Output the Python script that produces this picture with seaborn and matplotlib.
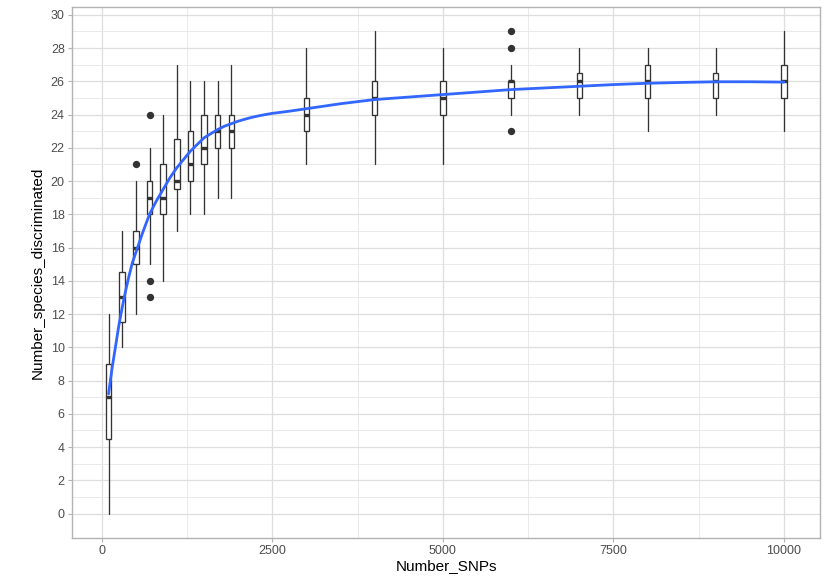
import matplotlib
matplotlib.use("Agg")
import matplotlib.pyplot as plt
import seaborn as sns
import pandas as pd

# Box summaries of species discriminated per SNP panel size
snps = [100, 300, 500, 700, 900, 1100, 1300, 1500, 1700, 1900,
        3000, 4000, 5000, 6000, 7000, 8000, 9000, 10000]
whisker_low = [0, 10, 12, 15, 14, 17, 18, 18, 19, 19, 21, 21, 21, 24, 24, 23, 24, 23]
q1 = [4.5, 11.5, 15, 18, 18, 19.5, 20, 21, 22, 22, 23, 24, 24, 25, 25, 25, 25, 25]
median = [7, 13, 16, 19, 19, 20, 21, 22, 23, 23, 24, 25, 25, 26, 26, 26, 26, 26]
q3 = [9, 14.5, 17, 20, 21, 22.5, 23, 24, 24, 24, 25, 26, 26, 26, 26.5, 27, 26.5, 27]
whisker_high = [12, 17, 20, 22, 24, 27, 26, 26, 26, 27, 28, 29, 28, 27, 28, 28, 28, 29]

# Outlying runs
outlier_snps = [500, 700, 700, 700, 6000, 6000, 6000]
outlier_species = [21, 24, 14, 13, 29, 28, 23]

# Smoothed trend
smooth_snps = [100, 150, 200, 250, 300, 350, 400, 450, 500, 600, 700, 800, 900,
               1000, 1100, 1200, 1300, 1400, 1500, 1600, 1700, 1800, 1900, 2000,
               2100, 2200, 2300, 2400, 2500, 2750, 3000, 3500, 4000,
               4500, 5000, 5500, 6000, 6500, 7000, 7500, 8000, 8500, 9000,
               9500, 10000]
smooth_species = [7.2, 8.7, 10.0, 11.3, 12.4, 13.4, 14.3, 15.1, 15.7, 16.9, 18.0,
                  18.8, 19.5, 20.2, 20.8, 21.3, 21.8, 22.2, 22.6, 22.85, 23.1,
                  23.3, 23.45, 23.6, 23.72, 23.83, 23.92, 24.0, 24.07, 24.2,
                  24.35, 24.65, 24.9, 25.05, 25.2, 25.35, 25.5, 25.6, 25.7,
                  25.8, 25.88, 25.93, 25.97, 25.97, 25.95]

x_ticks = [0, 2500, 5000, 7500, 10000]
y_ticks = list(range(0, 31, 2))

sns.set_theme(style="whitegrid")
plt.rcParams["font.family"] = ["Liberation Sans", "DejaVu Sans"]

fig = plt.figure(figsize=(8.34, 5.82), dpi=100)
ax = fig.add_axes([0.086, 0.0761, 0.8978, 0.9114])
ax.set_facecolor("white")

ink = "#333333"
stats = [dict(med=m, q1=a, q3=b, whislo=lo, whishi=hi, fliers=[])
         for m, a, b, lo, hi in zip(median, q1, q3, whisker_low, whisker_high)]
ax.bxp(stats, positions=snps, widths=80, showcaps=False, showfliers=False,
       patch_artist=True, manage_ticks=False,
       boxprops=dict(facecolor="white", edgecolor=ink, linewidth=0.95),
       whiskerprops=dict(color=ink, linewidth=0.95),
       medianprops=dict(color=ink, linewidth=2.4, solid_capstyle="butt"),
       zorder=3)

out_df = pd.DataFrame({"Number_SNPs": outlier_snps,
                       "Number_species_discriminated": outlier_species})
sns.scatterplot(data=out_df, x="Number_SNPs", y="Number_species_discriminated",
                color=ink, s=28, linewidth=0, ax=ax, zorder=4)

smooth_df = pd.DataFrame({"Number_SNPs": smooth_snps,
                          "Number_species_discriminated": smooth_species})
sns.lineplot(data=smooth_df, x="Number_SNPs", y="Number_species_discriminated",
             color="#3366FF", linewidth=2.0, sort=False, ax=ax, zorder=5)

ax.set_xlim(-440, 10535)
ax.set_ylim(-1.45, 30.45)
ax.set_xticks(x_ticks)
ax.set_xticklabels([str(v) for v in x_ticks])
ax.set_yticks(y_ticks)
ax.set_xticks([1250, 3750, 6250, 8750], minor=True)
ax.set_yticks(list(range(1, 30, 2)), minor=True)

ax.grid(which="major", color="#DEDEDE", linewidth=0.9)
ax.grid(which="minor", color="#E6E6E6", linewidth=0.6)
ax.set_axisbelow(True)

for sp in ax.spines.values():
    sp.set_color("#B3B3B3")
    sp.set_linewidth(1.0)
    sp.set_visible(True)

ax.tick_params(axis="both", which="major", length=3, width=0.8, color="#B3B3B3",
               labelsize=9, labelcolor="#4D4D4D", pad=2, direction="out",
               bottom=True, left=True)
ax.tick_params(axis="both", which="minor", length=0)

ax.set_xlabel("Number_SNPs", fontsize=11, color="black", labelpad=2)
ax.set_ylabel("Number_species_discriminated", fontsize=11, color="black", labelpad=4)

fig.savefig("out.png", dpi=100)
